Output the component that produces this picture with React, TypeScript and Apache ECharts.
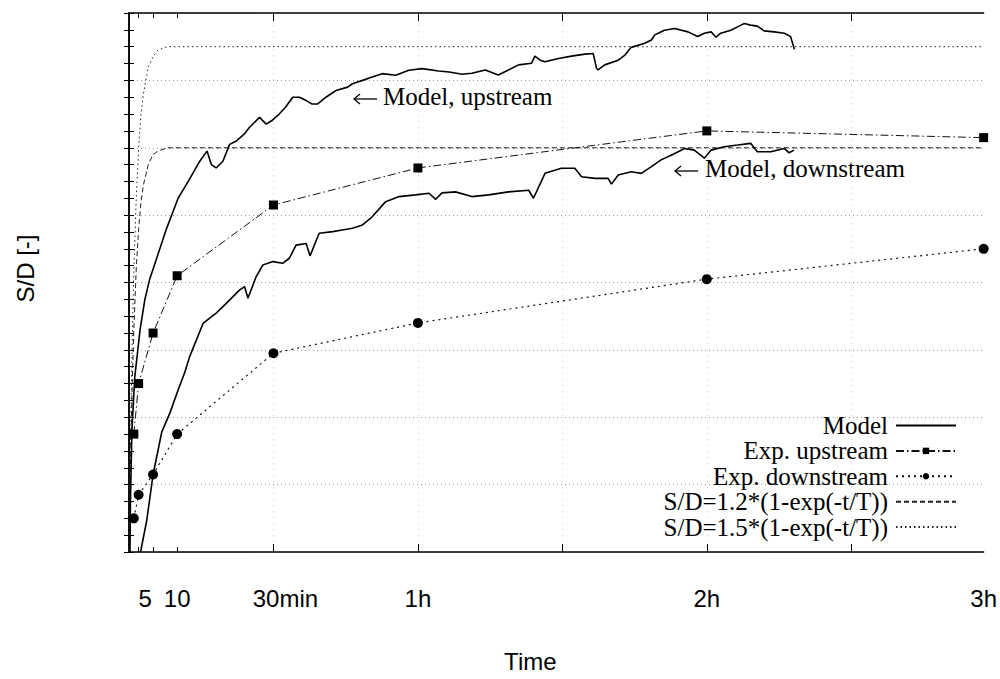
import React, { useEffect, useRef } from "react";
import * as echarts from "echarts";

// Time in minutes. The last measurement sits at the right end of the time axis (the 3 h mark).
const T_END = 177.5;

// Measured stress ratios S/D
const expTimes = [1, 2, 5, 10, 30, 60, 120, T_END];
const expUpstream = [0.35, 0.5, 0.65, 0.82, 1.03, 1.14, 1.25, 1.23];
const expDownstream = [0.1, 0.17, 0.23, 0.35, 0.59, 0.68, 0.81, 0.9];

// Exponential fits S/D = a*(1-exp(-t/T)), sampled points
const fitTimes = [0, 0.25, 0.5, 0.75, 1, 1.5, 2, 2.5, 3, 4, 5, 6, 8, 10, T_END];
const fit12 = [0, 0.22, 0.4, 0.54, 0.66, 0.84, 0.96, 1.04, 1.09, 1.15, 1.18, 1.19, 1.2, 1.2, 1.2];
const fit15 = [0, 0.27, 0.49, 0.68, 0.83, 1.05, 1.2, 1.3, 1.36, 1.44, 1.47, 1.49, 1.5, 1.5, 1.5];

// Model results [t (min), S/D]
const modelUpstream: [number, number][] = [
  [0.2, 0], [0.3, 0.15], [0.6, 0.36], [1.2, 0.52], [2.3, 0.66], [3.3, 0.75], [4.3, 0.81],
  [5.7, 0.87], [7.8, 0.96], [10.2, 1.05], [12.3, 1.1], [14.7, 1.16], [16.2, 1.19], [17.1, 1.15],
  [18.1, 1.14], [19.5, 1.16], [20.9, 1.21], [22.3, 1.22], [23.5, 1.235], [24.2, 1.245], [25.0, 1.26],
  [27.1, 1.29], [28.5, 1.27], [29.6, 1.28], [31.2, 1.3], [32.5, 1.32], [34.0, 1.35], [35.4, 1.35],
  [36.8, 1.34], [38.0, 1.33], [39.2, 1.33], [40.9, 1.35], [43.0, 1.37], [45.4, 1.38], [46.4, 1.39],
  [48.5, 1.4], [50.5, 1.41], [52.6, 1.42], [55.4, 1.415], [58.1, 1.43], [60.9, 1.435], [64.3, 1.428],
  [66.5, 1.425], [69.2, 1.418], [71.2, 1.421], [74.0, 1.431], [76.7, 1.416], [78.8, 1.431],
  [80.9, 1.446], [83.6, 1.451], [84.3, 1.472], [85.4, 1.46], [86.4, 1.455], [89.2, 1.465],
  [91.9, 1.472], [94.7, 1.478], [96.4, 1.48], [97.1, 1.436], [97.4, 1.431], [98.8, 1.446],
  [101.6, 1.46], [103.0, 1.475], [104.3, 1.498], [107.1, 1.51], [108.5, 1.52], [109.2, 1.535],
  [111.2, 1.549], [113.3, 1.554], [116.1, 1.544], [118.1, 1.53], [119.5, 1.54], [120.9, 1.544],
  [121.9, 1.528], [122.9, 1.54], [125.0, 1.549], [127.1, 1.564], [127.8, 1.569], [129.1, 1.564],
  [130.5, 1.561], [131.9, 1.547], [134.0, 1.544], [136.1, 1.54], [137.4, 1.53], [138.2, 1.492],
];

const modelDownstream: [number, number][] = [
  [2.4, 0], [3.7, 0.095], [5.0, 0.23], [6.8, 0.356], [8.5, 0.413], [10.2, 0.481], [11.6, 0.534],
  [12.6, 0.58], [15.4, 0.679], [16.3, 0.689], [18.1, 0.709], [20.2, 0.738], [23.0, 0.778],
  [24.0, 0.788], [24.7, 0.753], [26.4, 0.817], [27.8, 0.852], [29.9, 0.862], [31.9, 0.857],
  [33.3, 0.872], [34.7, 0.911], [36.8, 0.916], [37.6, 0.879], [39.5, 0.946], [42.3, 0.951],
  [44.3, 0.956], [46.4, 0.961], [48.5, 0.971], [50.5, 0.995], [53.3, 1.04], [56.1, 1.055],
  [59.5, 1.06], [62.3, 1.065], [63.7, 1.047], [65.0, 1.066], [67.8, 1.069], [71.2, 1.055],
  [74.7, 1.06], [78.8, 1.069], [83.0, 1.074], [84.0, 1.05], [86.4, 1.124], [89.8, 1.139],
  [92.6, 1.139], [94.0, 1.114], [96.8, 1.109], [99.5, 1.109], [100.2, 1.092], [101.6, 1.119],
  [104.3, 1.129], [106.4, 1.124], [108.5, 1.144], [110.5, 1.164], [112.6, 1.178], [115.4, 1.198],
  [117.4, 1.193], [119.5, 1.169], [120.9, 1.193], [123.6, 1.203], [126.4, 1.208], [129.1, 1.213],
  [130.5, 1.188], [133.3, 1.188], [136.1, 1.198], [137.1, 1.185], [138.1, 1.193],
];

// Time axis ticks and labels
const majorTicks = [30, 60, 90, 120, 150];
const minorTicks = [2, 5, 10];
const labelValues = [5, 10, 30, 60, 120, T_END];
const labelTexts = ["5", "10", "30min", "1h", "2h", "3h"];

const SERIES_NAMES = [
  "Model",
  "Exp. upstream",
  "Exp. downstream",
  "S/D=1.2*(1-exp(-t/T))",
  "S/D=1.5*(1-exp(-t/T))",
];

const SERIF = "'Liberation Serif', 'DejaVu Serif', serif";
const SANS = "'Liberation Sans', Arial, sans-serif";
const HIDDEN = "rgba(0,0,0,0)";

const zip = (xs: number[], ys: number[]) => xs.map((x, i) => [x, ys[i]]);

// a thin left-pointing arrow drawn before an annotation
const arrow = (x: number, y: number) => ({
  type: "group",
  children: [
    { type: "line", shape: { x1: x, y1: y, x2: x + 23, y2: y }, style: { stroke: "#000", lineWidth: 1.3 } },
    {
      type: "polyline",
      shape: { points: [[x + 6, y - 5], [x, y], [x + 6, y + 5]] },
      style: { stroke: "#000", lineWidth: 1.3, fill: null },
    },
  ],
});

export default function App() {
  const ref = useRef<HTMLDivElement>(null);

  useEffect(() => {
    if (!ref.current) return;
    const chart = echarts.init(ref.current, null, { renderer: "svg" });

    const frame = { show: true, lineStyle: { color: "#000", width: 1.5 } };
    const tickStyle = { color: "#000", width: 1 };
    const labelRich = {
      s5: { padding: [0, 16, 0, 0] },
      s30: { padding: [0, 0, 0, 24] },
      n: {},
    };

    const xBase = {
      type: "value" as const,
      min: 0,
      max: T_END,
      axisLine: frame,
      axisLabel: { show: false },
      splitLine: { show: false },
    };

    const yBase = {
      type: "value" as const,
      min: 0,
      max: 1.6,
      interval: 0.2,
      axisLine: frame,
      axisLabel: { show: false },
      axisTick: { show: true, inside: true, length: 5, lineStyle: tickStyle },
      minorTick: { show: true, splitNumber: 4, length: 5, lineStyle: tickStyle },
    };

    chart.setOption({
      animation: false,
      backgroundColor: "#fff",
      grid: { left: 129, right: 13, top: 13, bottom: 127 },
      xAxis: [
        {
          ...xBase,
          position: "bottom",
          name: "Time",
          nameLocation: "middle",
          nameGap: 97,
          nameTextStyle: { fontFamily: SANS, fontSize: 24, color: "#000", padding: [0, 52, 0, 0] },
          axisTick: {
            show: true,
            inside: true,
            length: 8,
            customValues: majorTicks,
            lineStyle: tickStyle,
          },
          axisLabel: {
            show: true,
            customValues: labelValues,
            margin: 34,
            fontFamily: SANS,
            fontSize: 24,
            color: "#000",
            formatter: (v: number) => {
              const i = labelValues.findIndex((x) => Math.abs(x - v) < 1e-6);
              const t = i >= 0 ? labelTexts[i] : "";
              if (t === "5") return "{s5|" + t + "}";
              if (t === "30min") return "{s30|" + t + "}";
              return "{n|" + t + "}";
            },
            rich: labelRich,
          },
          splitLine: {
            show: true,
            lineStyle: { color: "#d0d0d0", width: 1, type: [1, 5] },
          },
        },
        {
          ...xBase,
          position: "bottom",
          axisLine: { show: false },
          axisTick: { show: true, inside: true, length: 5, customValues: minorTicks, lineStyle: tickStyle },
          splitLine: { show: false },
        },
        {
          ...xBase,
          position: "top",
          axisTick: { show: true, inside: true, length: 8, customValues: majorTicks, lineStyle: tickStyle },
        },
        {
          ...xBase,
          position: "top",
          axisLine: { show: false },
          axisTick: { show: true, inside: true, length: 5, customValues: minorTicks, lineStyle: tickStyle },
        },
      ],
      yAxis: [
        {
          ...yBase,
          position: "left",
          name: "S/D [-]",
          nameLocation: "middle",
          nameRotate: 90,
          nameGap: 92,
          nameTextStyle: { fontFamily: SANS, fontSize: 24, color: "#000", padding: [0, 0, 0, 28] },
          splitLine: { show: true, lineStyle: { color: "#999", width: 1, type: [1, 3] } },
        },
        {
          ...yBase,
          position: "right",
          splitLine: { show: false },
        },
      ],
      legend: {
        orient: "vertical",
        right: 43,
        top: 413,
        padding: 0,
        align: "right",
        itemWidth: 60,
        itemHeight: 8,
        itemGap: 0.4,
        selectedMode: false,
        data: SERIES_NAMES,
        textStyle: { fontFamily: SERIF, fontSize: 25, color: "#000", lineHeight: 25, padding: [0, 3, 0, 0] },
      },
      graphic: [
        arrow(354, 99),
        {
          type: "text",
          left: 383,
          top: 84,
          style: { text: "Model, upstream", font: "25px " + SERIF, fill: "#000" },
        },
        arrow(675, 171),
        {
          type: "text",
          left: 705,
          top: 156,
          style: { text: "Model, downstream", font: "25px " + SERIF, fill: "#000" },
        },
      ],
      series: [
        {
          name: SERIES_NAMES[4],
          type: "line",
          data: zip(fitTimes, fit15),
          showSymbol: false,
          symbol: "none",
          lineStyle: { color: "#222", width: 1, type: [1.5, 3] },
          itemStyle: { color: HIDDEN },
          z: 2,
        },
        {
          name: SERIES_NAMES[3],
          type: "line",
          data: zip(fitTimes, fit12),
          showSymbol: false,
          symbol: "none",
          lineStyle: { color: "#222", width: 1, type: [5, 3] },
          itemStyle: { color: HIDDEN },
          z: 2,
        },
        {
          name: SERIES_NAMES[1],
          type: "line",
          data: zip(expTimes, expUpstream),
          symbol: "rect",
          symbolSize: 9,
          itemStyle: { color: "#000" },
          lineStyle: { color: "#111", width: 1, type: [8, 3, 1.5, 3] },
          z: 3,
        },
        {
          name: SERIES_NAMES[2],
          type: "line",
          data: zip(expTimes, expDownstream),
          symbol: "circle",
          symbolSize: 10,
          itemStyle: { color: "#000" },
          lineStyle: { color: "#111", width: 1.2, type: [2, 4] },
          z: 3,
        },
        {
          name: SERIES_NAMES[0],
          type: "line",
          data: modelUpstream,
          showSymbol: false,
          symbol: "none",
          lineStyle: { color: "#000", width: 1.6 },
          itemStyle: { color: HIDDEN },
          z: 4,
        },
        {
          name: SERIES_NAMES[0],
          type: "line",
          data: modelDownstream,
          showSymbol: false,
          symbol: "none",
          lineStyle: { color: "#000", width: 1.6 },
          itemStyle: { color: HIDDEN },
          z: 4,
        },
      ],
    });

    return () => chart.dispose();
  }, []);

  return (
    <div
      ref={ref}
      style={{ position: "fixed", left: 0, top: 0, width: 1000, height: 679, background: "#fff" }}
    />
  );
}
